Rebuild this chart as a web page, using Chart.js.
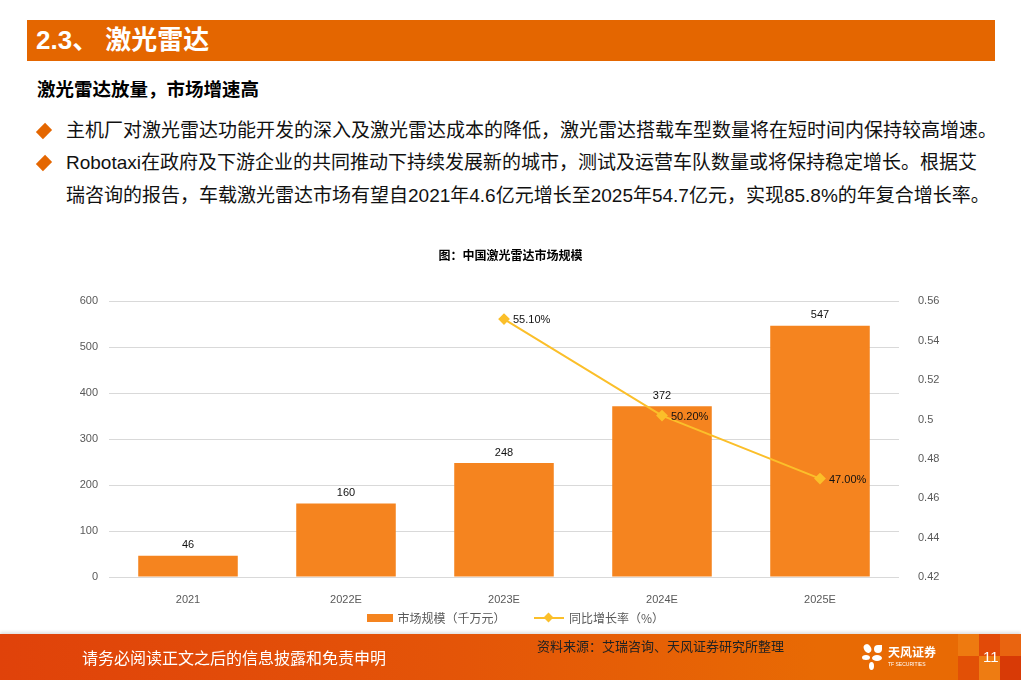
<!DOCTYPE html>
<html>
<head>
<meta charset="utf-8">
<script src="https://cdn.jsdelivr.net/npm/chart.js@4.4.1/dist/chart.umd.min.js"></script>
<style>
    html, body { margin: 0; padding: 0; background: #fff; }
    body { width: 1021px; height: 680px; position: relative; overflow: hidden;
           font-family: "Liberation Sans", "Noto Sans CJK SC", sans-serif; }
    .titulo { position: absolute; left: 27px; top: 20px; width: 968px; height: 41px;
              background: #E46600; color: #fff; font-size: 26px; font-weight: bold;
              line-height: 41px; padding-left: 9px; box-sizing: border-box;
              font-family: "Liberation Sans", "Noto Sans CJK SC", sans-serif; }
    .subtitulo { position: absolute; left: 37px; top: 76px; font-size: 18.5px; font-weight: bold;
                 color: #000; font-family: "Noto Sans CJK SC", sans-serif; line-height: 24px; }
    .texto { position: absolute; left: 66px; font-size: 19px; color: #111; line-height: 33px;
             font-family: "Liberation Sans", "Noto Sans CJK SC", sans-serif; white-space: nowrap; }
    .rombo { position: absolute; width: 10px; height: 10px; background: #E46600;
             transform: rotate(45deg) scaleY(1.3); }
    #chartBox { position: absolute; left: 0; top: 236px; width: 1021px; height: 372px; }
    .leyenda { position: absolute; top: 607px; left: 5px; width: 1021px; text-align: center;
               font-size: 12px; color: #595959; font-family: "Noto Sans CJK SC", sans-serif; }
    .leyenda span { display: inline-block; vertical-align: middle; }
    .pie { position: absolute; left: 0; top: 634px; width: 1021px; height: 46px;
           background: linear-gradient(90deg, #E0420A 0%, #E45508 45%, #E86A04 80%, #E86A04 100%);
           box-shadow: 0 -2px 3px rgba(0,0,0,0.12); }
    .cuadro { position: absolute; }
</style>
</head>
<body>
<div class="titulo">2.3、 激光雷达</div>
<div class="subtitulo">激光雷达放量，市场增速高</div>

<div class="rombo" style="left:39px; top:126px;"></div>
<div class="texto" style="top:114px;">主机厂对激光雷达功能开发的深入及激光雷达成本的降低，激光雷达搭载车型数量将在短时间内保持较高增速。</div>
<div class="rombo" style="left:39px; top:158px;"></div>
<div class="texto" style="top:146px;">Robotaxi在政府及下游企业的共同推动下持续发展新的城市，测试及运营车队数量或将保持稳定增长。根据艾</div>
<div class="texto" style="top:179px;">瑞咨询的报告，车载激光雷达市场有望自2021年4.6亿元增长至2025年54.7亿元，实现85.8%的年复合增长率。</div>

<div id="chartBox"><canvas id="mercadoChart"></canvas></div>

<div class="leyenda">
    <span style="width:26px; height:8px; background:#F5841F;"></span>
    <span style="margin-left:2px;">市场规模（千万元）</span>
    <span style="margin-left:26px; position:relative; width:30px; height:10px;">
        <span style="position:absolute; left:0; top:4px; width:30px; height:2px; background:#FBBF2A;"></span>
        <span style="position:absolute; left:11px; top:1px; width:7px; height:7px; background:#FBBF2A; transform:rotate(45deg);"></span>
    </span>
    <span style="margin-left:2px;">同比增长率（%）</span>
</div>

<div class="pie">
    <div class="cuadro" style="left:958px; top:0; width:21px; height:22px; background:#EE7A10;"></div>
    <div class="cuadro" style="left:979px; top:0; width:21px; height:22px; background:#E24A08;"></div>
    <div class="cuadro" style="left:1000px; top:0; width:21px; height:22px; background:#E96410;"></div>
    <div class="cuadro" style="left:958px; top:22px; width:21px; height:24px; background:#E25006;"></div>
    <div class="cuadro" style="left:979px; top:22px; width:21px; height:24px; background:#EE7C12;"></div>
    <div class="cuadro" style="left:1000px; top:22px; width:21px; height:24px; background:#D83A06;"></div>
    <div style="position:absolute; left:82px; top:12px; color:#fff; font-size:16px; font-family:'Noto Sans CJK SC', sans-serif; line-height:22px;">请务必阅读正文之后的信息披露和免责申明</div>
    <div style="position:absolute; left:537px; top:3px; color:#222; font-size:13px; font-family:'Noto Sans CJK SC', sans-serif; line-height:18px;">资料来源：艾瑞咨询、天风证券研究所整理</div>
    <div style="position:absolute; left:862px; top:10px; width:22px; height:26px;">
        <span style="position:absolute; left:2px; top:0; width:7px; height:9px; background:#fff; border-radius:50%; transform:rotate(-30deg);"></span>
        <span style="position:absolute; left:12px; top:1px; width:8px; height:8px; background:#fff; border-radius:50% 0 50% 50%;"></span>
        <span style="position:absolute; left:0; top:11px; width:8px; height:5px; background:#fff; border-radius:50%;"></span>
        <span style="position:absolute; left:10px; top:11px; width:10px; height:6px; background:#fff; border-radius:50%;"></span>
        <span style="position:absolute; left:7px; top:18px; width:5px; height:8px; background:#fff; border-radius:50%;"></span>
    </div>
    <div style="position:absolute; left:888px; top:11px; color:#fff; font-size:12px; font-weight:bold; font-family:'Noto Sans CJK SC', sans-serif; line-height:14px;">天风证券</div>
    <div style="position:absolute; left:888px; top:27px; color:#fff; font-size:5px; font-family:'Liberation Sans', sans-serif; line-height:6px;">TF SECURITIES</div>
    <div style="position:absolute; left:983px; top:13px; color:#fff; font-size:15px; font-family:'Liberation Sans', sans-serif; line-height:20px;">11</div>
</div>

<script>
/* -----------------------------
   DATOS
----------------------------- */
const categorias = ["2021", "2022E", "2023E", "2024E", "2025E"];
const mercado = [46, 160, 248, 372, 547];
const crecimiento = [null, null, 0.551, 0.502, 0.47];
const etiquetasCrecimiento = ["", "", "55.10%", "50.20%", "47.00%"];
const ticksIzq = [0, 100, 200, 300, 400, 500, 600];
const ticksDer = [0.42, 0.44, 0.46, 0.48, 0.5, 0.52, 0.54, 0.56];

const colorBarra = "#F5841F";
const colorLinea = "#FBBF2A";

/* -----------------------------
   ETIQUETAS DE DATOS
----------------------------- */
const etiquetasPlugin = {
    id: "etiquetas",
    afterDatasetsDraw(chart) {
        const ctx = chart.ctx;
        ctx.save();
        ctx.font = "11px 'Liberation Sans', Arial, sans-serif";
        ctx.fillStyle = "#111";

        // dataset 1 = barras
        chart.getDatasetMeta(1).data.forEach((bar, i) => {
            ctx.textAlign = "center";
            ctx.textBaseline = "bottom";
            ctx.fillText(String(mercado[i]), bar.x, bar.y - 5);
        });

        // dataset 0 = linea
        chart.getDatasetMeta(0).data.forEach((pt, i) => {
            if (crecimiento[i] === null) return;
            ctx.textAlign = "left";
            ctx.textBaseline = "middle";
            ctx.fillText(etiquetasCrecimiento[i], pt.x + 9, pt.y + 1);
        });
        ctx.restore();
    }
};

const ctx = document.getElementById("mercadoChart");

new Chart(ctx, {
    data: {
        labels: categorias,
        datasets: [
            {
                type: "line",
                label: "同比增长率（%）",
                data: crecimiento,
                yAxisID: "y1",
                borderColor: colorLinea,
                backgroundColor: colorLinea,
                borderWidth: 2,
                pointStyle: "rectRot",
                pointRadius: 4.5,
                pointHoverRadius: 4.5,
                tension: 0,
                spanGaps: false,
                order: 0
            },
            {
                type: "bar",
                label: "市场规模（千万元）",
                data: mercado,
                yAxisID: "y",
                backgroundColor: colorBarra,
                categoryPercentage: 1,
                barPercentage: 0.63,
                order: 1
            }
        ]
    },
    options: {
        responsive: true,
        maintainAspectRatio: false,
        animation: false,
        layout: { padding: { top: 0, left: 0, right: 0, bottom: 0 } },
        plugins: {
            legend: { display: false },
            tooltip: { enabled: false },
            title: {
                display: true,
                text: "图：中国激光雷达市场规模",
                color: "#000",
                font: { family: "'Noto Sans CJK SC', sans-serif", size: 12, weight: "bold" },
                padding: { top: 12, bottom: 39 }
            }
        },
        scales: {
            x: {
                grid: { display: false },
                border: { display: false },
                ticks: {
                    color: "#595959",
                    font: { family: "'Liberation Sans', Arial, sans-serif", size: 11 },
                    padding: 8
                },
                afterFit: (s) => { s.height = 31; }
            },
            y: {
                position: "left",
                min: 0,
                max: 600,
                afterBuildTicks: (s) => { s.ticks = ticksIzq.map(v => ({ value: v })); },
                grid: { color: "#D9D9D9", drawTicks: false, lineWidth: 1 },
                border: { display: false },
                ticks: {
                    color: "#595959",
                    font: { family: "'Liberation Sans', Arial, sans-serif", size: 11 },
                    padding: 11
                },
                afterFit: (s) => { s.width = 109; }
            },
            y1: {
                position: "right",
                min: 0.42,
                max: 0.56,
                afterBuildTicks: (s) => { s.ticks = ticksDer.map(v => ({ value: v })); },
                grid: { display: false },
                border: { display: false },
                ticks: {
                    color: "#595959",
                    font: { family: "'Liberation Sans', Arial, sans-serif", size: 11 },
                    padding: 11,
                    callback: (v) => String(+v.toFixed(2))
                },
                afterFit: (s) => { s.width = 122; }
            }
        }
    },
    plugins: [etiquetasPlugin]
});
</script>
</body>
</html>
